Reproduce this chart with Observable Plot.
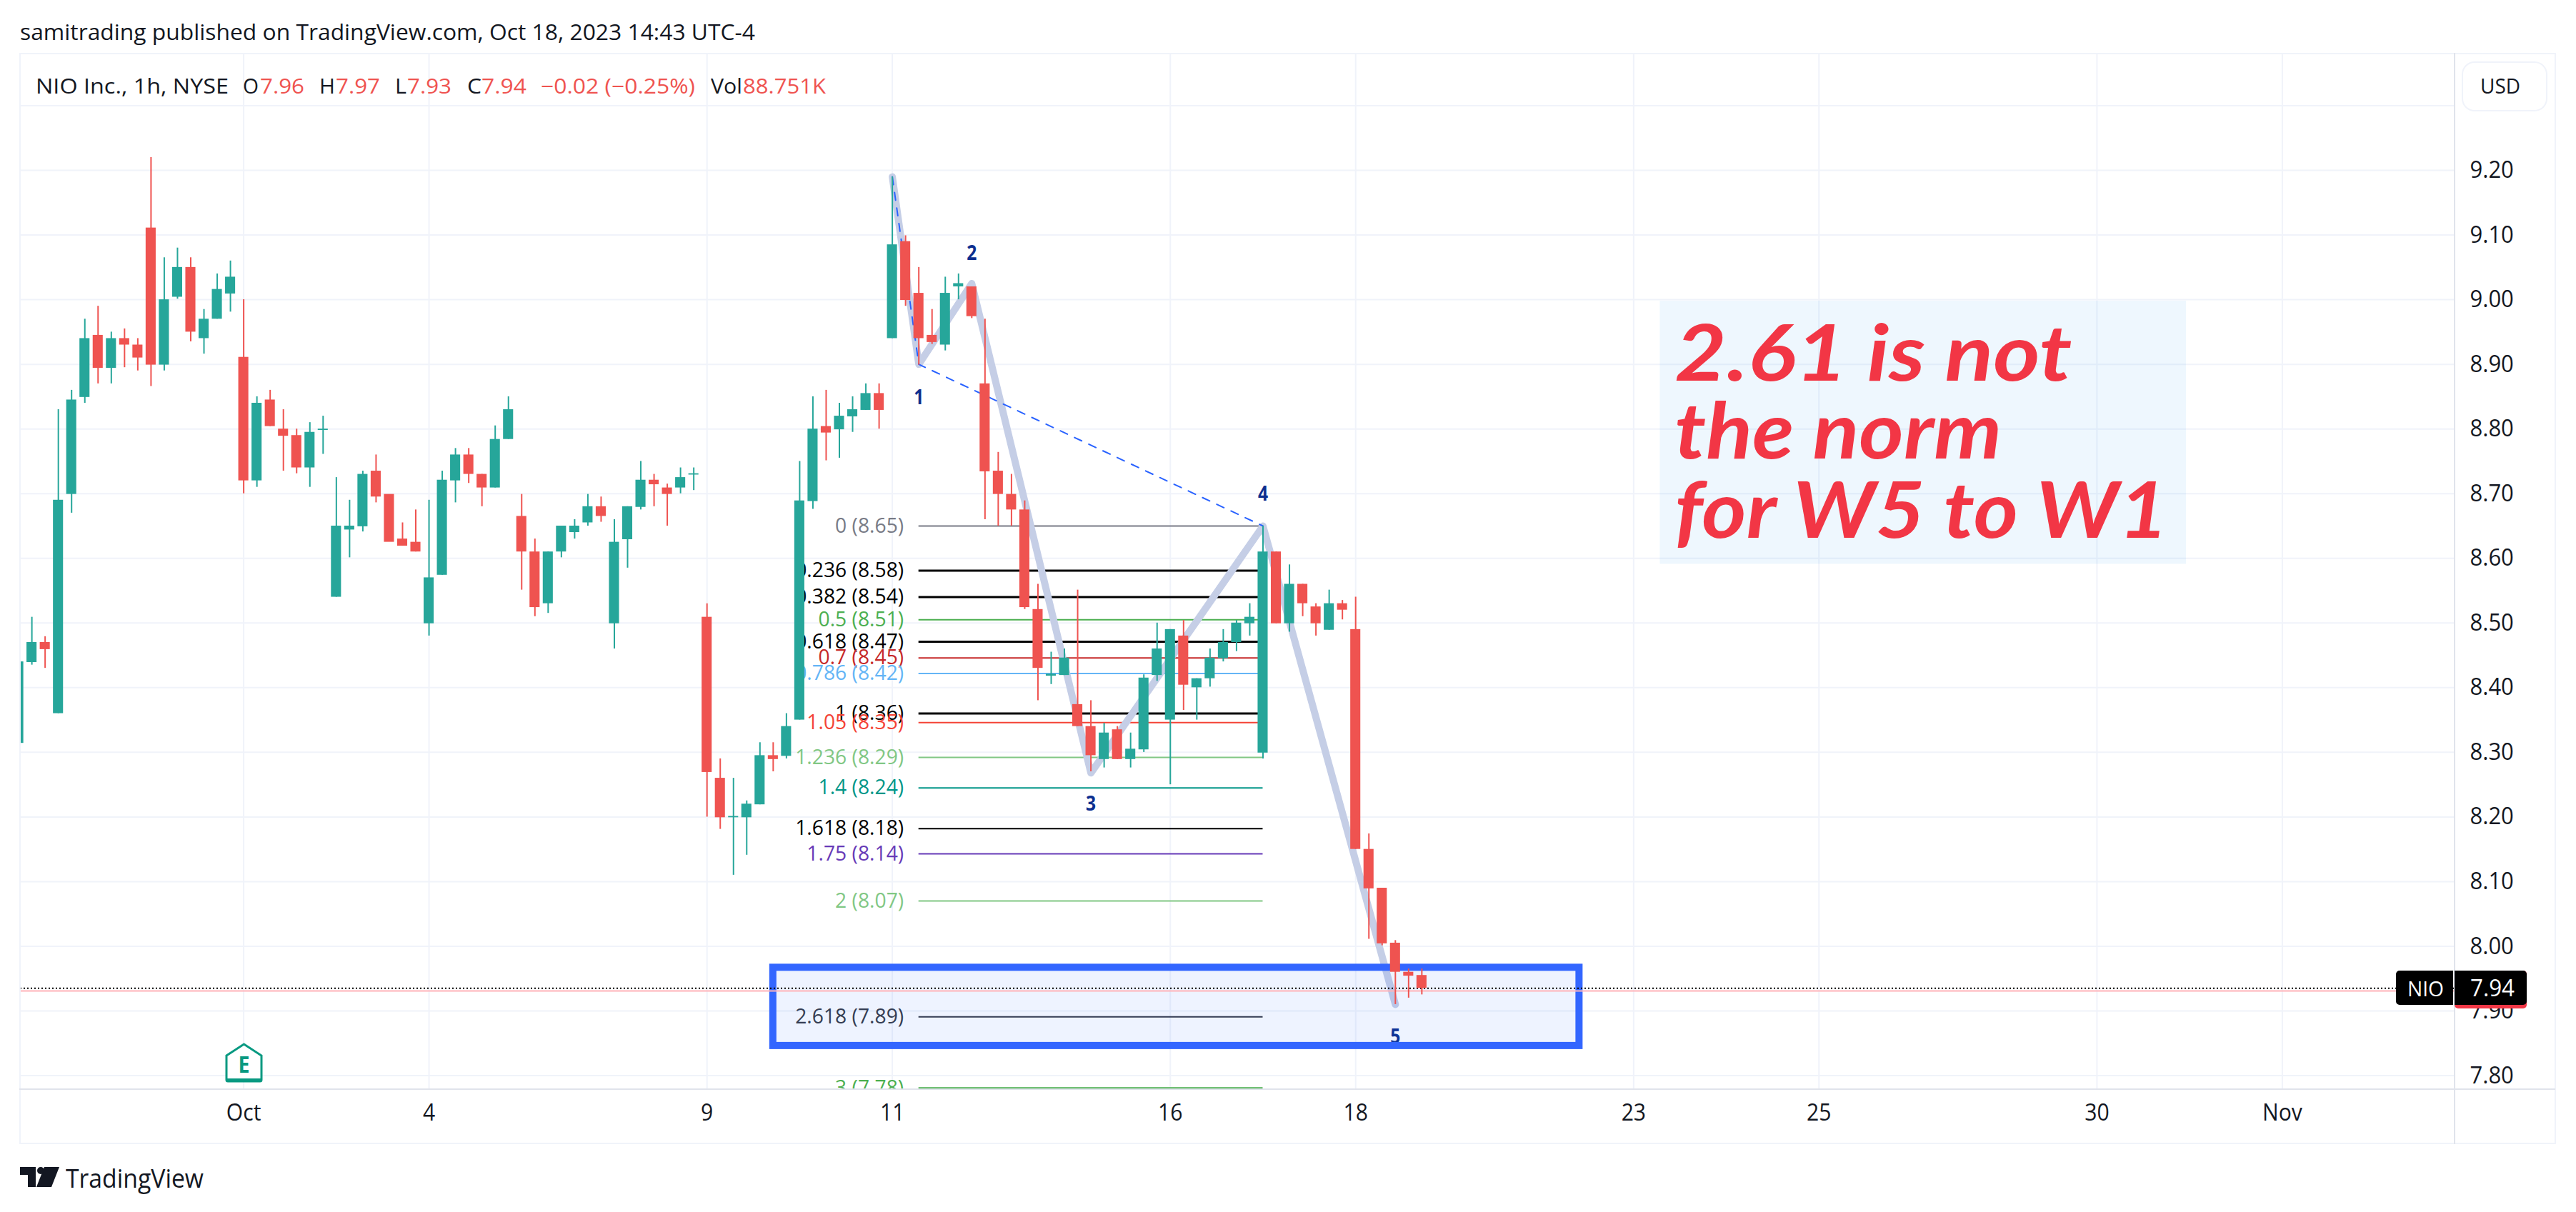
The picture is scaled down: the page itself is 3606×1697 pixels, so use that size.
<!DOCTYPE html>
<html>
<head>
<meta charset="utf-8">
<script src="https://cdn.jsdelivr.net/npm/d3@7"></script>
<script src="https://cdn.jsdelivr.net/npm/@observablehq/plot@0.6"></script>
<style>
html,body{margin:0;padding:0;background:#fff;}
body{width:3606px;height:1697px;position:relative;overflow:hidden;font-family:"Open Sans",sans-serif;color:#131722;}
svg.chart{position:absolute;left:0;top:0;}
.ov{position:absolute;white-space:nowrap;line-height:1;transform-origin:left center;}
.ln{position:absolute;}
</style>
</head>
<body>
<script>
// Hourly bars, position counted in trading hours from the first bar of Oct 2 (index 0)
const firstIndex = -17;
const opens = [8.314,8.439,8.470,8.360,8.699,8.849,8.945,8.894,8.940,8.930,9.111,8.899,9.004,9.050,8.940,8.970,9.009,
  8.911,8.720,8.845,8.800,8.790,8.740,8.798,
  8.540,8.644,8.649,8.735,8.699,8.630,8.625,
  8.499,8.574,8.720,8.760,8.730,8.709,8.784,
  8.665,8.610,8.530,8.610,8.640,8.655,8.680,
  8.499,8.629,8.679,8.721,8.709,8.709,8.729,
  8.509,8.260,8.199,8.199,8.219,8.295,8.294,
  8.350,8.688,8.804,8.799,8.819,8.829,8.855,
  8.940,9.090,9.010,8.945,8.930,9.020,9.020,
  8.870,8.735,8.699,8.675,8.521,8.418,8.419,
  8.374,8.340,8.289,8.335,8.289,8.304,8.419,
  8.350,8.480,8.400,8.414,8.445,8.470,8.499,
  8.299,8.610,8.499,8.560,8.525,8.489,8.530,
  8.490,8.150,8.090,8.005,7.960,7.955];
const highs = [8.440,8.509,8.479,8.830,8.860,8.970,8.990,8.950,8.955,8.940,9.220,9.065,9.080,9.065,8.985,9.040,9.060,
  9.000,8.850,8.860,8.830,8.800,8.810,8.820,
  8.725,8.690,8.735,8.760,8.699,8.655,8.675,
  8.690,8.735,8.770,8.770,8.730,8.805,8.850,
  8.699,8.630,8.610,8.650,8.660,8.699,8.695,
  8.660,8.680,8.750,8.730,8.715,8.740,8.740,
  8.530,8.290,8.260,8.225,8.315,8.315,8.360,
  8.750,8.850,8.860,8.840,8.850,8.870,8.870,
  9.190,9.099,9.050,8.985,9.035,9.040,9.020,
  8.970,8.764,8.730,8.689,8.560,8.455,8.460,
  8.551,8.380,8.345,8.340,8.330,8.420,8.500,
  8.490,8.504,8.414,8.460,8.490,8.504,8.530,
  8.650,8.610,8.590,8.560,8.530,8.551,8.535,
  8.540,8.174,8.090,8.009,7.965,7.965];
const lows = [8.314,8.435,8.430,8.360,8.670,8.840,8.870,8.870,8.895,8.890,8.866,8.890,9.001,8.935,8.916,8.970,8.981,
  8.700,8.710,8.804,8.735,8.731,8.710,8.761,
  8.540,8.601,8.641,8.686,8.699,8.619,8.610,
  8.480,8.574,8.686,8.716,8.680,8.709,8.784,
  8.551,8.510,8.515,8.601,8.630,8.650,8.656,
  8.460,8.585,8.675,8.680,8.650,8.700,8.705,
  8.200,8.181,8.110,8.141,8.219,8.270,8.290,
  8.350,8.676,8.751,8.755,8.795,8.829,8.800,
  8.940,8.990,8.899,8.931,8.921,9.000,8.971,
  8.660,8.650,8.650,8.521,8.380,8.405,8.419,
  8.340,8.270,8.276,8.289,8.276,8.300,8.410,
  8.250,8.365,8.350,8.401,8.440,8.456,8.480,
  8.290,8.499,8.486,8.510,8.480,8.489,8.505,
  8.150,8.011,8.001,7.910,7.920,7.925];
const closes = [8.440,8.470,8.459,8.690,8.845,8.940,8.894,8.940,8.930,8.910,8.899,9.000,9.050,8.950,8.970,9.016,9.035,
  8.720,8.840,8.804,8.789,8.740,8.795,8.800,
  8.650,8.650,8.730,8.695,8.625,8.619,8.610,
  8.570,8.721,8.760,8.730,8.709,8.784,8.830,
  8.610,8.524,8.610,8.650,8.650,8.680,8.665,
  8.625,8.680,8.721,8.714,8.699,8.725,8.731,
  8.269,8.199,8.201,8.220,8.295,8.289,8.340,
  8.689,8.800,8.794,8.820,8.830,8.855,8.829,
  9.085,8.999,8.940,8.934,9.010,9.025,8.974,
  8.734,8.699,8.675,8.524,8.430,8.421,8.446,
  8.340,8.295,8.330,8.289,8.305,8.415,8.460,
  8.490,8.404,8.414,8.446,8.470,8.500,8.509,
  8.610,8.499,8.560,8.530,8.499,8.530,8.520,
  8.150,8.089,8.004,7.960,7.954,7.935];

// Calendar axis
const dayIndex = [0,14,35,49,70,84,105,119,140,154];
const dayLabel = ["Oct","4","9","11","16","18","23","25","30","Nov"];

// Price axis
const priceGrid = [7.8,7.9,8.0,8.1,8.2,8.3,8.4,8.5,8.6,8.7,8.8,8.9,9.0,9.1,9.2,9.3];
const priceLabels = [7.8,7.9,8.0,8.1,8.2,8.3,8.4,8.5,8.6,8.7,8.8,8.9,9.0,9.1,9.2];

// Fibonacci levels
const fibRatio = ["0","0.236","0.382","0.5","0.618","0.7","0.786","1","1.05","1.236","1.4","1.618","1.75","2","2.618","3"];
const fibLabelPrice = ["8.65","8.58","8.54","8.51","8.47","8.45","8.42","8.36","8.35","8.29","8.24","8.18","8.14","8.07","7.89","7.78"];
const fibPrice = [8.650,8.581,8.540,8.505,8.471,8.446,8.422,8.360,8.346,8.292,8.245,8.182,8.143,8.070,7.891,7.781];
const fibColor = ["#787b86","#000000","#000000","#4caf50","#000000","#c62828","#64b5f6","#000000","#f44336","#81c784","#009688","#000000","#673ab7","#81c784","#363a45","#4caf50"];
const fibWidth = [2,3,3,2,3,2,2,3,2,2,2,2,2,2,2,2];
const fibStart = 51, fibEnd = 77;

// Elliott wave path
const waveIndex = [49,51,55,64,77,87];
const wavePrice = [9.190,8.900,9.025,8.268,8.650,7.910];
const waveName = ["","1","2","3","4","5"];
const waveNamePrice = [null,8.849,9.072,8.220,8.700,7.860];
const dashIndex = [49,51,77];
const dashPrice = [9.190,8.900,8.650];

// Highlight box around the 2.618 level
const zoneIndex = [40.0,100.9];
const zonePrice = [7.846,7.967];

// Annotation
const noteLines = ["2.61 is not","the norm","for W5 to W1"];
const noteBaseline = [8.875,8.754,8.632];
const noteWidth = [556,458,691];
const noteIndex = 108.1;
const noteBoxIndex = [107.0,146.75];
const noteBoxPrice = [8.591,8.998];

const lastPrice = 7.935, previousLine = 7.931;

// Build tables
const bars = opens.map((o,k)=>({i:firstIndex+k,o,h:highs[k],l:lows[k],c:closes[k]}));
const rising = bars.filter(d=>d.c>=d.o), falling = bars.filter(d=>d.c<d.o);
const fibs = fibRatio.map((r,k)=>({label:`${r} (${fibLabelPrice[k]})`,p:fibPrice[k],color:fibColor[k],w:fibWidth[k]}));
const wave = waveIndex.map((i,k)=>({i,p:wavePrice[k],name:waveName[k],np:waveNamePrice[k]}));
const dash = dashIndex.map((i,k)=>({i,p:dashPrice[k]}));
const notes = noteLines.map((t,k)=>({t,p:noteBaseline[k],w:noteWidth[k]}));

const TEAL="#26a69a", RED="#ef5350", GRID="#f0f3fa";
const bodyHalf = 0.38;

const fibMarks = fibs.flatMap(f=>[
  Plot.ruleY([f.p],{x1:fibStart,x2:fibEnd,stroke:f.color,strokeWidth:f.w}),
  Plot.text([f],{x:()=>fibStart,y:"p",text:"label",dx:-21,textAnchor:"end",fill:f.color,fontSize:29,clip:true,className:"fib"})
]);

const chart = Plot.plot({
  width:3606,height:1697,
  marginLeft:28,marginRight:170,marginTop:75,marginBottom:172,
  className:"chart",
  style:{background:"#fff",fontFamily:'"Open Sans",sans-serif',color:"#131722"},
  x:{type:"linear",domain:[-16.87,167.04]},
  y:{type:"linear",domain:[7.7785,9.3801]},
  marks:[
    Plot.ruleY(priceGrid,{stroke:GRID,strokeWidth:2}),
    Plot.ruleX(dayIndex,{stroke:GRID,strokeWidth:2}),
    Plot.axisY({anchor:"right",ticks:priceLabels,tickSize:0,tickPadding:21,tickFormat:d3.format(".2f"),label:null,fontSize:33,fill:"#131722",className:"tick"}),
    Plot.axisX({anchor:"bottom",ticks:dayIndex,tickSize:0,tickPadding:21,tickFormat:d=>dayLabel[dayIndex.indexOf(d)],label:null,fontSize:32,fill:"#131722",className:"tick"}),
    Plot.rect([0],{x1:()=>noteBoxIndex[0],x2:()=>noteBoxIndex[1],y1:()=>noteBoxPrice[0],y2:()=>noteBoxPrice[1],fill:"#2196f3",fillOpacity:0.08}),
    ...fibMarks,
    Plot.line(wave,{x:"i",y:"p",stroke:"#c5cee6",strokeWidth:10,strokeLinecap:"round",strokeLinejoin:"round"}),
    Plot.line(dash,{x:"i",y:"p",stroke:"#2962ff",strokeWidth:2,strokeDasharray:"11,11"}),
    Plot.text(wave.filter(d=>d.name),{x:"i",y:"np",text:"name",fill:"#0d2f8f",fontSize:29,fontWeight:700,className:"wname"}),
    Plot.rect([0],{x1:()=>zoneIndex[0],x2:()=>zoneIndex[1],y1:()=>zonePrice[0],y2:()=>zonePrice[1],fill:"#2962ff",fillOpacity:0.08,stroke:"#3366ff",strokeWidth:10}),
    Plot.text(notes,{x:()=>noteIndex,y:"p",text:"t",textAnchor:"start",lineAnchor:"bottom",fill:"#f23645",fontFamily:"Lato",fontSize:110,fontWeight:700,fontStyle:"italic",className:"note"}),
    Plot.ruleY([previousLine],{stroke:"#ffb3b9",strokeWidth:2}),
    Plot.ruleY([lastPrice],{stroke:"#000",strokeWidth:2,strokeDasharray:"2,3"}),
    Plot.ruleX(rising,{x:"i",y1:"l",y2:"h",stroke:TEAL,strokeWidth:2,clip:true}),
    Plot.ruleX(falling,{x:"i",y1:"l",y2:"h",stroke:RED,strokeWidth:2,clip:true}),
    Plot.rect(rising,{x1:d=>d.i-bodyHalf,x2:d=>d.i+bodyHalf,y1:"o",y2:"c",fill:TEAL,clip:true}),
    Plot.rect(falling,{x1:d=>d.i-bodyHalf,x2:d=>d.i+bodyHalf,y1:"o",y2:"c",fill:RED,clip:true})
  ]
});
chart.classList.add("chart");
document.body.appendChild(chart);

// Glyph widths of the original are narrower than the fonts on hand
function squeeze(sel,f){ chart.querySelectorAll(sel).forEach(t=>{
  const n=t.getComputedTextLength(); if(n>0){t.setAttribute("textLength",n*f);t.setAttribute("lengthAdjust","spacingAndGlyphs");}
});}
squeeze(".fib text",0.975);
squeeze(".tick text",0.94);
squeeze(".wname text",0.85);
chart.querySelectorAll(".note text").forEach((t,k)=>{t.setAttribute("textLength",noteWidth[k]);t.setAttribute("lengthAdjust","spacingAndGlyphs");});

// Frame
function box(x,y,w,h,css){const e=document.createElement("div");e.className="ln";e.style.cssText=`left:${x}px;top:${y}px;width:${w}px;height:${h}px;${css}`;document.body.appendChild(e);return e;}
box(27,74,3550,2,"background:"+GRID);
box(27,1600,3550,2,"background:"+GRID);
box(27,74,2,1528,"background:"+GRID);
box(3576,74,2,1528,"background:"+GRID);
box(27,1524,3550,2,"background:#e0e3eb");
box(3435,74,2,1528,"background:#e0e3eb");
box(3446,86,116,66,`border:2px solid ${GRID};border-radius:18px;background:#fff`);

// Text placed around the chart: [text, left, width, centre y, size, colour, weight]
const overlayText = [
 ["samitrading published on TradingView.com, Oct 18, 2023 14:43 UTC-4",28,1029,44,31,"#131722",400],
 ["NIO Inc., 1h, NYSE",50,270,119,29,"#131722",400],
 ["O",340,22,119,29,"#131722",400],["7.96",364,62,119,29,RED,400],
 ["H",447,22,119,29,"#131722",400],["7.97",470,62,119,29,RED,400],
 ["L",553,16,119,29,"#131722",400],["7.93",570,62,119,29,RED,400],
 ["C",654,20,119,29,"#131722",400],["7.94",674,63,119,29,RED,400],
 ["\u22120.02 (\u22120.25%)",757,216,119,29,RED,400],
 ["Vol",995,44,119,29,"#131722",400],["88.751K",1040,116,119,29,RED,400],
 ["USD",3472,56,119,29,"#131722",400],
 ["TradingView",92,193,1650,36,"#131722",500]
];
function addText(a){const [t,x,w,y,s,c,fw]=a;const e=document.createElement("div");e.className="ov";e.textContent=t;
  e.style.cssText=`left:${x}px;top:${y-s/2}px;font-size:${s}px;color:${c};font-weight:${fw}`;document.body.appendChild(e);
  e.style.transform=`scaleX(${w/e.getBoundingClientRect().width})`;return e;}
overlayText.forEach(addText);

// Last price tag
box(3354,1359,80,48,"background:#000;border-radius:5px 0 0 5px");
box(3436,1359,101,53,"background:#f23645;border-radius:0 5px 5px 5px");
box(3436,1359,101,48,"background:#000;border-radius:0 5px 5px 0");
addText(["NIO",3370,51,1383,29,"#fff",400]);
addText(["7.94",3458,62,1383,32,"#fff",400]);

// Earnings flag and logo
const flag=document.createElement("div");flag.className="ln";flag.style.cssText="left:315px;top:1460px;width:53px;height:56px";
flag.innerHTML=`<svg width="53" height="56" viewBox="0 0 53 56"><path d="M2 18 L26.5 2 L51 18 L51 52 Q51 54 49 54 L4 54 Q2 54 2 52Z" fill="#fff" stroke="#089981" stroke-width="3"/><rect x="2" y="50" width="49" height="5" fill="#089981"/><text x="26.5" y="42" text-anchor="middle" textLength="16" lengthAdjust="spacingAndGlyphs" font-family="Open Sans" font-weight="700" font-size="33" fill="#089981">E</text></svg>`;
document.body.appendChild(flag);
const logo=document.createElement("div");logo.className="ln";logo.style.cssText="left:28px;top:1634px;width:55px;height:28px";
logo.innerHTML=`<svg width="55" height="28" viewBox="0 0 55 28"><path d="M0 0H22V28H11V11H0Z M34 28H23L34 0H55L44 28Z" fill="#131722"/><circle cx="29" cy="5" r="5" fill="#131722"/></svg>`;
document.body.appendChild(logo);
</script>
</body>
</html>
